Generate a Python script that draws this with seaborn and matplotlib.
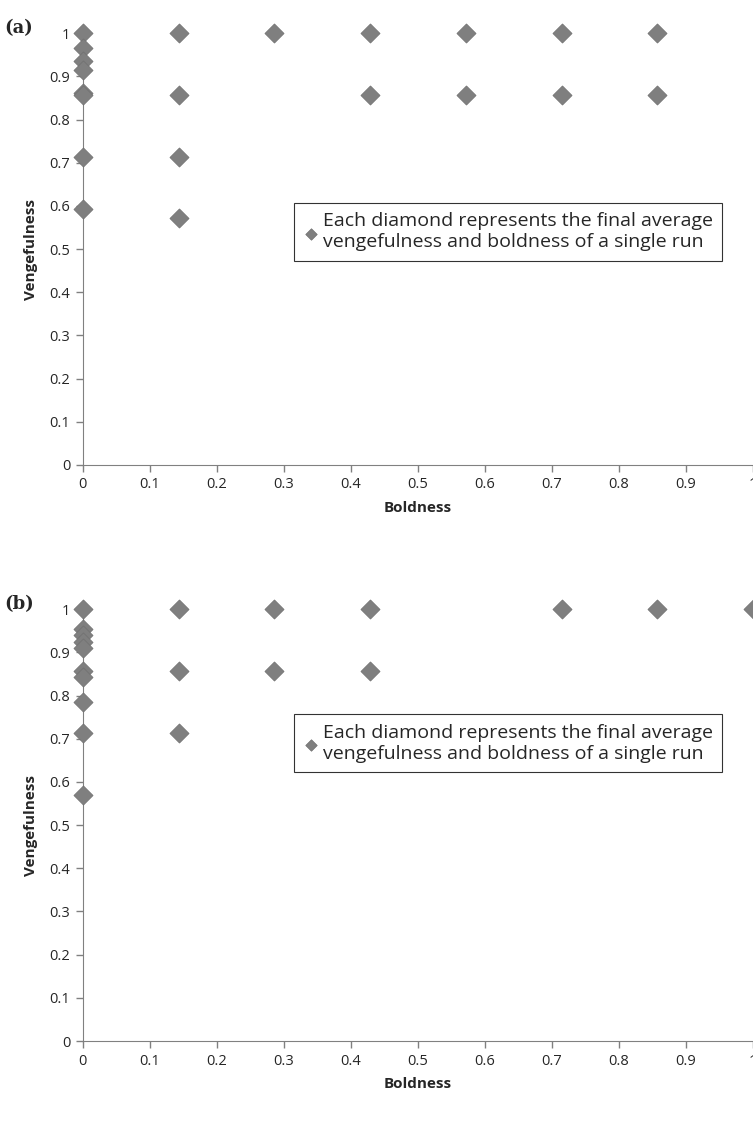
import numpy as np
import pandas as pd
import seaborn as sns
import matplotlib.pyplot as plt

# panel (a) data
a_bold = [0, 0, 0, 0, 0, 0, 0, 0,
          1/7, 1/7, 1/7, 1/7,
          2/7,
          3/7, 3/7, 4/7, 4/7, 5/7, 5/7, 6/7, 6/7]
a_veng = [1, 0.967, 0.935, 0.914, 0.862, 0.857, 0.714, 0.593,
          1, 0.857, 0.714, 0.571,
          1,
          1, 0.857, 1, 0.857, 1, 0.857, 1, 0.857]

# panel (b) data
b_bold = [0, 0, 0, 0, 0, 0, 0, 0, 0, 0,
          1/7, 1/7, 1/7,
          2/7, 2/7, 3/7, 3/7,
          5/7, 6/7, 1]
b_veng = [1, 0.955, 0.94, 0.925, 0.91, 0.857, 0.843, 0.786, 0.714, 0.571,
          1, 0.857, 0.714,
          1, 0.857, 1, 0.857,
          1, 1, 1]

sns.set_style("white")
plt.rcParams['font.family'] = ['Open Sans', 'DejaVu Sans']

fig = plt.figure(figsize=(7.53, 11.33), dpi=100)
label = "Each diamond represents the final average\nvengefulness and boldness of a single run"
ticks = np.round(np.arange(0, 1.01, 0.1), 1)
ticklabels = ['0' if t == 0 else ('1' if t == 1 else f'{t:g}') for t in ticks]

for bottom, xs, ys, tag, leg_y in [(0.5896, a_bold, a_veng, '(a)', 0.54),
                                     (0.0812, b_bold, b_veng, '(b)', 0.69)]:
    ax = fig.add_axes([0.110, bottom, 0.89, 0.381])
    df = pd.DataFrame({'Boldness': xs, 'Vengefulness': ys})
    sns.scatterplot(data=df, x='Boldness', y='Vengefulness', marker='D', s=95,
                    color='#7f7f7f', edgecolor='#6f6f6f', linewidth=0.5,
                    ax=ax, clip_on=False, zorder=3, label=label)
    ax.set_xlim(0, 1)
    ax.set_ylim(0, 1)
    ax.set_xticks(ticks)
    ax.set_xticklabels(ticklabels, fontsize=10.5)
    ax.set_yticks(ticks)
    ax.set_yticklabels(ticklabels, fontsize=10.5)
    ax.tick_params(direction='out', length=5, color='#808080', width=1, pad=4,
                   left=True, bottom=True)
    for s in ['top', 'right']:
        ax.spines[s].set_visible(False)
    for s in ['left', 'bottom']:
        ax.spines[s].set_color('#808080')
    ax.set_xlabel('Boldness', fontsize=11, fontweight='bold', labelpad=6)
    ax.set_ylabel('Vengefulness', fontsize=11, fontweight='bold', labelpad=8)
    leg = ax.legend(loc='center left', bbox_to_anchor=(0.30, leg_y), fontsize=14,
                    frameon=True, fancybox=False, edgecolor='black', handletextpad=0.2,
                    borderpad=0.5, markerscale=0.6, handlelength=0.8)
    leg.get_frame().set_linewidth(0.8)
    fig.text(0.005, bottom + 0.381 + 0.005, tag, fontsize=13, fontweight='bold',
             family='DejaVu Serif', va='center')

fig.savefig('out.png', dpi=100)
